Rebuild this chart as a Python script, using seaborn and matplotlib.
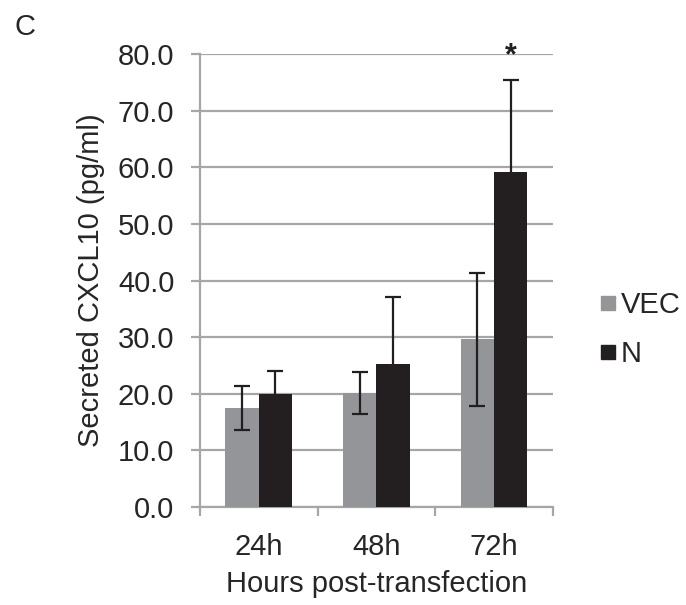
import pandas as pd
import numpy as np
import seaborn as sns
import matplotlib.pyplot as plt
from matplotlib.lines import Line2D

# Dados
hours = ["24h", "48h", "72h"]
groups = ["VEC", "N"]
vec_mean = [17.5, 20.1, 29.6]
vec_err = [3.9, 3.7, 11.7]
n_mean = [20.0, 25.2, 59.1]
n_err = [4.0, 11.8, 16.3]
y_ticks = [0, 10, 20, 30, 40, 50, 60, 70, 80]

colors = {"VEC": "#939598", "N": "#231f20"}
grid_col = "#a6a6a6"
fs = 21

df = pd.DataFrame({
    "Hours": hours * 2,
    "Group": ["VEC"] * 3 + ["N"] * 3,
    "Value": vec_mean + n_mean,
    "Err": vec_err + n_err,
})

sns.set_style("white")
plt.rcParams["font.family"] = ["Liberation Sans", "DejaVu Sans"]

fig = plt.figure(figsize=(6.86, 6.05), dpi=100)
ax = fig.add_axes([0.2915, 0.162, 0.5145, 0.7487])

sns.barplot(data=df, x="Hours", y="Value", hue="Group", hue_order=groups,
            palette=colors, width=0.567, gap=0, errorbar=None, linewidth=0,
            saturation=1, legend=False, ax=ax, zorder=3)

# Barras de erro em cima de cada barra
for cont, g in zip(ax.containers, groups):
    sub = df[df["Group"] == g]
    xs = [p.get_x() + p.get_width() / 2 for p in cont.patches]
    ax.errorbar(xs, sub["Value"], yerr=sub["Err"], fmt="none", ecolor="#231f20",
                elinewidth=1.6, capsize=5.5, capthick=1.6, zorder=4)

# Asterisco sobre N 72h
p = ax.containers[1].patches[2]
ax.text(p.get_x() + p.get_width() / 2, 78.2, "*", ha="center", va="baseline",
        fontsize=22, fontweight="bold", color="#231f20", zorder=5)

ax.set_ylim(0, 80)
ax.set_xlim(-0.5, 2.5)
ax.set_yticks(y_ticks)
ax.set_yticklabels([f"{v:.1f}" for v in y_ticks], fontsize=fs)
ax.yaxis.grid(True, color=grid_col, linewidth=1.6, zorder=0)
ax.set_axisbelow(True)

ax.set_xticks([-0.5, 0.5, 1.5, 2.5])
ax.set_xticklabels([])
ax.set_xticks([0, 1, 2], minor=True)
ax.set_xticklabels(hours, minor=True, fontsize=fs)
ax.tick_params(axis="x", which="major", direction="out", length=6.5, width=1.6,
               color=grid_col, bottom=True)
ax.tick_params(axis="x", which="minor", length=0, pad=19)
ax.tick_params(axis="y", direction="out", length=6.5, width=1.6, color=grid_col,
               left=True, pad=12)

for s in ["top", "right"]:
    ax.spines[s].set_visible(False)
for s in ["left", "bottom"]:
    ax.spines[s].set_color(grid_col)
    ax.spines[s].set_linewidth(1.6)

ax.set_xlabel("Hours post-transfection", fontsize=fs, labelpad=6)
ax.set_ylabel("Secreted CXCL10 (pg/ml)", fontsize=fs, labelpad=9)

handles = [Line2D([], [], marker="s", linestyle="none", markersize=10,
                  markerfacecolor=colors[g], markeredgecolor=colors[g]) for g in groups]
fig.legend(handles, groups, loc="center left", bbox_to_anchor=(0.871, 0.455),
           frameon=False, fontsize=fs, handletextpad=0.1, labelspacing=0.72,
           handlelength=0.7, borderpad=0, borderaxespad=0)

fig.text(0.021, 0.978, "C", fontsize=fs, va="top", ha="left")

fig.savefig("out.png", dpi=100)
